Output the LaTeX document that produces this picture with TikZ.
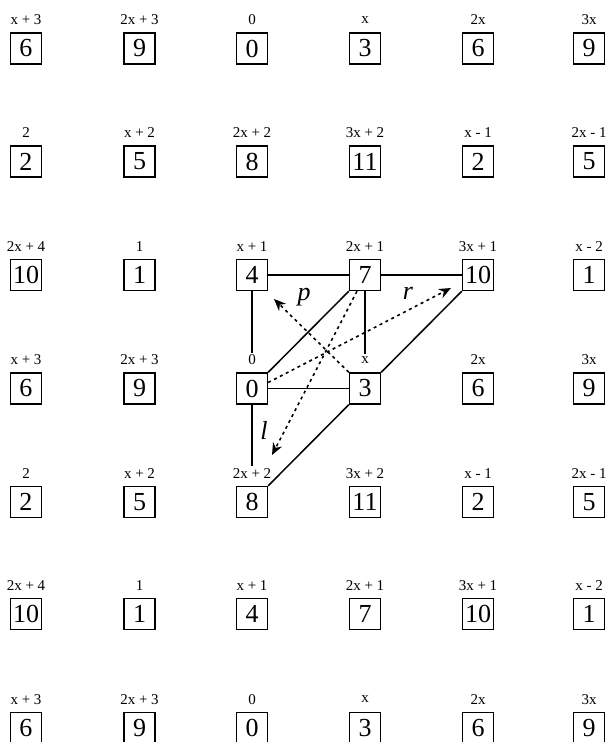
\documentclass[tikz,border=0pt]{standalone}
\usepackage{fontspec}
\setmainfont{Liberation Serif}
\usetikzlibrary{arrows.meta,calc}
\tikzset{
  numbox/.style={draw, line width=1.4pt, minimum size=31pt, inner sep=0pt,
    font=\fontsize{26}{26}\selectfont},
  lab/.style={inner sep=2pt, font=\fontsize{15}{15}\selectfont},
  conn/.style={line width=1.5pt},
  dotarrow/.style={line width=1.6pt, dash pattern=on 3pt off 3.6pt,
    -{Stealth[length=12pt,width=10pt]}},
  letterlab/.style={inner sep=0pt, font=\fontsize{26}{26}\selectfont\itshape}
}
\def\rowA{x + 3/6/26, 2x + 3/9/139.5, 0/0/252, x/3/365, 2x/6/478, 3x/9/589}
\def\rowB{2/2/26, x + 2/5/139.5, 2x + 2/8/252, 3x + 2/11/365, x - 1/2/478, 2x - 1/5/589}
\def\rowC{2x + 4/10/26, 1/1/139.5, x + 1/4/252, 2x + 1/7/365, 3x + 1/10/478, x - 2/1/589}
\newcommand\gridrow[3]{%
  \foreach \lab/\num/\xx [count=\c] in #3 {
    \node[numbox] (b-#1-\c) at (\xx,#2) {\num};
    \node[lab] (l-#1-\c) at (\xx,#2-28.5) {\lab};
  }%
}
\begin{document}
\begin{tikzpicture}[x=1pt,y=-1pt]
\useasboundingbox (0,0) rectangle (609,742);
\gridrow{1}{48.5}{\rowA}
\gridrow{2}{161.5}{\rowB}
\gridrow{3}{275}{\rowC}
\gridrow{4}{388.5}{\rowA}
\gridrow{5}{502}{\rowB}
\gridrow{6}{614}{\rowC}
\gridrow{7}{728}{\rowA}
% solid connectors
\draw[conn] (b-3-3) -- (b-3-4);
\draw[conn] (b-3-4) -- (b-3-5);
\draw[conn] (b-4-3) -- (b-4-4);
\draw[conn] (b-3-3.south) -- (l-4-3.north);
\draw[conn] (b-3-4.south) -- (l-4-4.north);
\draw[conn] (b-4-3.south) -- (l-5-3.north);
\draw[conn] (b-4-3.north east) -- (b-3-4.south west);
\draw[conn] (b-4-4.north east) -- (b-3-5.south west);
\draw[conn] (b-4-4.south west) -- (b-5-3.north east);
% dotted arrows
\coordinate (tipP) at (274,299);
\coordinate (tipR) at (451,288);
\coordinate (tipL) at (272,455);
\draw[dotarrow] (b-4-4.north west) -- (tipP);
\draw[dotarrow] ([yshift=6pt]b-4-3.east) -- (tipR);
\draw[dotarrow] ([xshift=-8pt]b-3-4.south) -- (tipL);
\node[letterlab] (p) at (304,297) {p};
\node[letterlab] (r) at (408,293) {r};
\node[letterlab] (l) at (264,430) {l};
\end{tikzpicture}
\end{document}
